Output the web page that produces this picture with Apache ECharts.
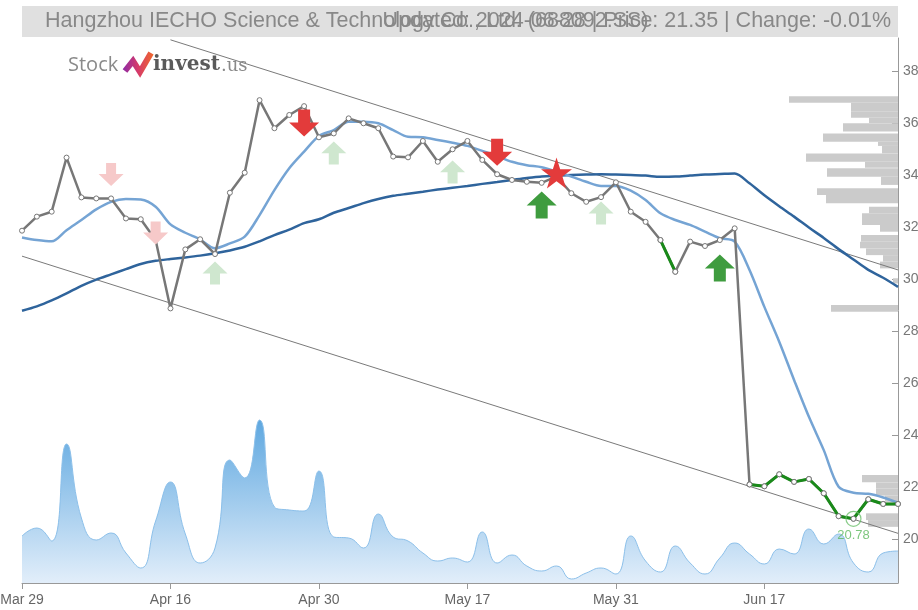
<!DOCTYPE html>
<html>
<head>
<meta charset="utf-8">
<script src="https://cdn.jsdelivr.net/npm/echarts@6/dist/echarts.min.js"></script>
<style>html,body{margin:0;padding:0;background:#fff;overflow:hidden}#c{width:918px;height:610px}</style>
</head>
<body>
<div id="c"></div>
<script>
const dates = ['Mar 29','Apr 1','Apr 2','Apr 3','Apr 8','Apr 9','Apr 10','Apr 11','Apr 12','Apr 15',
  'Apr 16','Apr 17','Apr 18','Apr 19','Apr 22','Apr 23','Apr 24','Apr 25','Apr 26','Apr 29',
  'Apr 30','May 6','May 7','May 8','May 9','May 10','May 13','May 14','May 15','May 16',
  'May 17','May 20','May 21','May 22','May 23','May 24','May 27','May 28','May 29','May 30',
  'May 31','Jun 3','Jun 4','Jun 5','Jun 6','Jun 7','Jun 11','Jun 12','Jun 13','Jun 14',
  'Jun 17','Jun 18','Jun 19','Jun 20','Jun 21','Jun 24','Jun 25','Jun 26','Jun 27','Jun 28'];

const price = [31.86,32.40,32.59,34.67,33.14,33.10,33.10,32.33,32.30,31.50,
  28.87,31.14,31.53,30.96,33.32,34.09,36.88,35.80,36.31,36.65,
  35.45,35.60,36.18,35.99,35.80,34.71,34.68,35.31,34.51,34.99,
  35.31,34.58,34.03,33.81,33.74,33.70,33.95,33.30,32.97,33.15,
  33.72,32.59,32.20,31.50,30.28,31.44,31.27,31.50,31.95,22.10,
  22.03,22.49,22.20,22.31,21.76,20.88,20.78,21.53,21.35,21.35];

const maShort = [31.60,31.50,31.45,31.88,32.27,32.68,32.97,33.08,33.06,32.78,
  32.10,31.78,31.52,31.18,31.37,31.63,32.46,33.42,34.26,34.90,
  35.50,35.73,36.05,36.05,35.99,35.73,35.47,35.45,35.35,35.24,
  35.12,34.93,34.73,34.51,34.38,34.30,34.13,33.94,33.74,33.58,
  33.58,33.40,33.04,32.53,32.27,32.08,31.82,31.57,31.44,30.35,
  28.93,27.59,26.12,24.70,23.42,22.01,21.78,21.74,21.60,21.40];

const maLong = [28.78,28.95,29.18,29.45,29.74,29.98,30.18,30.38,30.58,30.70,
  30.77,30.83,30.90,30.99,31.10,31.24,31.45,31.69,31.90,32.15,
  32.30,32.55,32.73,32.92,33.08,33.20,33.28,33.36,33.44,33.51,
  33.58,33.66,33.73,33.81,33.89,33.94,33.98,34.00,34.02,34.03,
  34.02,34.00,33.98,33.93,33.94,33.98,34.02,34.04,34.06,33.68,
  33.22,32.80,32.40,31.98,31.58,31.15,30.75,30.35,30.05,29.70];

const volume = [47,55,42,139,65,43,50,30,15,62,
  101,49,20,35,123,105,163,76,73,72,
  112,46,45,35,69,46,42,30,22,25,
  21,51,20,28,17,12,17,4,10,15,
  9,47,22,11,37,20,9,25,40,29,
  19,34,29,54,39,49,20,11,30,32];

const greenRanges = [[43,44],[49,59]];

const upperTrend = [['Apr 16',39.2],['Jun 28',30.35]];
const lowerTrend = [['Mar 29',30.88],['Jun 28',20.22]];

const sellWeak = [[6,34.02],[9,31.77]];
const sellStrong = [[19,36.0],[32,34.88]];
const buyWeak = [[13,30.23],[21,34.85],[29,34.12],[39,32.54]];
const buyStrong = [[35,32.85],[47,30.42]];
const starSignal = [[36,34.08]];
const minPoint = [[56,20.78]];

const profileLow  = [36.78,36.45,36.20,36.00,35.67,35.28,35.12,34.83,34.51,34.28,33.93,33.62,33.23,32.91,32.53,32.08,31.82,31.43,31.18,30.92,30.67,30.41,29.83,28.74,22.18,21.95,21.67,21.43,20.73,20.47];
const profileHigh = [37.03,36.78,36.45,36.20,35.99,35.60,35.28,35.12,34.83,34.51,34.26,33.93,33.49,33.23,32.78,32.53,32.08,31.69,31.43,31.18,30.92,30.67,30.03,29.00,22.46,22.18,21.95,21.67,20.99,20.73];
const profileVol  = [109,47,47,29,55,75,20,16,92,33,71,17,81,72,29,36,18,37,38,32,15,18,5,67,36,22,22,13,32,30];

const yMin = 18.31, yMax = 39.27;

const greenLine = price.map((v,i)=> greenRanges.some(r=>i>=r[0]&&i<=r[1]) ? v : null);
const profileData = profileLow.map((l,i)=>[l, profileHigh[i], profileVol[i]]);

const DOWN = 'path://M9,0 L21,0 L21,13 L30,13 L15,27 L0,13 L9,13 Z';
const UP = 'path://M15,0 L30,14 L21,14 L21,27 L9,27 L9,14 L0,14 Z';
const STAR = 'path://M50,0 L61.23,34.55 L97.55,34.55 L68.16,55.9 L79.39,90.45 L50,69.1 L20.61,90.45 L31.84,55.9 L2.45,34.55 L38.77,34.55 Z';

function markerSeries(data, symbol, size, color) {
  return {type:'scatter', xAxisIndex:0, yAxisIndex:0, data:data, symbol:symbol, symbolSize:size,
    itemStyle:{color:color, opacity:1}, z:8, silent:true};
}

const chart = echarts.init(document.getElementById('c'), null, {renderer:'canvas'});
chart.setOption({
  animation:false,
  backgroundColor:'#fff',
  grid:[
    {left:22, right:20, top:38, bottom:27, containLabel:false, outerBoundsMode:'none'},
    {left:780, right:20, top:38, bottom:27, containLabel:false, outerBoundsMode:'none'}
  ],
  xAxis:[
    {type:'category', gridIndex:0, data:dates, boundaryGap:false,
      axisLine:{show:true, lineStyle:{color:'#999', width:1}},
      axisTick:{show:true, interval:9, length:6, lineStyle:{color:'#999'}},
      axisLabel:{interval:9, color:'#666', fontSize:14, margin:10, fontFamily:'Liberation Sans', hideOverlap:false},
      splitLine:{show:false}},
    {type:'value', gridIndex:1, inverse:true, min:0, max:118, show:false}
  ],
  yAxis:[
    {type:'value', gridIndex:0, position:'right', min:yMin, max:yMax, splitNumber:10,
      axisLine:{show:true, lineStyle:{color:'#999', width:1}},
      axisTick:{show:true, inside:true, length:6, lineStyle:{color:'#999'}},
      axisLabel:{color:'#777', fontSize:14, margin:5, showMinLabel:false, showMaxLabel:false, fontFamily:'Liberation Sans'},
      splitLine:{show:false}},
    {type:'value', gridIndex:0, min:0, max:545, show:false},
    {type:'value', gridIndex:1, min:yMin, max:yMax, show:false}
  ],
  series:[
    {type:'line', name:'Volume', xAxisIndex:0, yAxisIndex:1, data:volume, smooth:true, symbol:'none',
      lineStyle:{color:'#8cc0ea', width:1},
      areaStyle:{color:new echarts.graphic.LinearGradient(0,0,0,1,[{offset:0,color:'#5fa8e0'},{offset:1,color:'#e2eefa'}]), opacity:1},
      z:1, silent:true},
    {type:'custom', name:'Profile', xAxisIndex:1, yAxisIndex:2, data:profileData, z:1, silent:true,
      renderItem:function(params, api){
        const p1 = api.coord([api.value(2), api.value(1)]);
        const p0 = api.coord([0, api.value(0)]);
        return {type:'rect', shape:{x:p1[0], y:p1[1], width:p0[0]-p1[0], height:p0[1]-p1[1]},
          style:{fill:'#cbcbcb'}};
      }},
    {type:'line', name:'UpperTrend', xAxisIndex:0, yAxisIndex:0, data:upperTrend, symbol:'none',
      lineStyle:{color:'#7a7a7a', width:1}, z:2, silent:true},
    {type:'line', name:'LowerTrend', xAxisIndex:0, yAxisIndex:0, data:lowerTrend, symbol:'none',
      lineStyle:{color:'#7a7a7a', width:1}, z:2, silent:true},
    {type:'line', name:'MA Long', xAxisIndex:0, yAxisIndex:0, data:maLong, symbol:'none', smooth:0.3,
      lineStyle:{color:'#2f649c', width:2.5}, z:3, silent:true},
    {type:'line', name:'MA Short', xAxisIndex:0, yAxisIndex:0, data:maShort, symbol:'none', smooth:0.3,
      lineStyle:{color:'#75a4d4', width:2.5}, z:3, silent:true},
    {type:'line', name:'Price', xAxisIndex:0, yAxisIndex:0, data:price, symbol:'circle', symbolSize:5, showAllSymbol:true,
      lineStyle:{color:'#777', width:2.5}, itemStyle:{color:'#fff', borderColor:'#777', borderWidth:1}, z:4, silent:true},
    {type:'line', name:'Green', xAxisIndex:0, yAxisIndex:0, data:greenLine, symbol:'circle', symbolSize:5, showAllSymbol:true,
      connectNulls:false,
      lineStyle:{color:'#1a8a1a', width:3}, itemStyle:{color:'#fff', borderColor:'#777', borderWidth:1}, z:5, silent:true},
    markerSeries(sellWeak, DOWN, [25,23], '#f6c9c9'),
    markerSeries(buyWeak, UP, [25,23], '#cfe7cf'),
    markerSeries(sellStrong, DOWN, [30,27], '#e33b3b'),
    markerSeries(buyStrong, UP, [30,27], '#3f9c3f'),
    markerSeries(starSignal, STAR, 31, '#e33b3b'),
    {type:'scatter', name:'Min', xAxisIndex:0, yAxisIndex:0, data:minPoint, symbol:'circle', symbolSize:15,
      itemStyle:{color:'rgba(0,0,0,0)', borderColor:'#6cbf6c', borderWidth:1.2},
      label:{show:true, position:'bottom', distance:2, color:'#5cb85c', fontSize:13, fontFamily:'Liberation Sans',
        formatter:function(p){return p.value[1].toFixed(2);}}, z:9, silent:true}
  ],
  graphic:[
    {type:'rect', shape:{x:22, y:6, width:876, height:31}, style:{fill:'#e0e0e0'}, z:10},
    {type:'text', x:45, y:21.5, style:{text:'Hangzhou IECHO Science & Technology Co., Ltd. (688092.SS)', fill:'#888',
      font:'21.5px "Liberation Sans"', textVerticalAlign:'middle', textAlign:'left'}, z:11},
    {type:'text', x:891, y:21.5, style:{text:'Updated: 2024-06-28 | Price: 21.35 | Change: -0.01%', fill:'#888',
      font:'21.5px "Liberation Sans"', textVerticalAlign:'middle', textAlign:'right'}, z:11},
    {type:'text', x:68, y:65, style:{text:'Stock', fill:'#8a8a8a', font:'20px "Open Sans"', textVerticalAlign:'middle'}, z:11},
    {type:'polyline', shape:{points:[[125,71],[133,61],[140,72],[151,53]]},
      style:{stroke:new echarts.graphic.LinearGradient(0,0,1,0,[{offset:0,color:'#8a2aa8'},{offset:0.5,color:'#d63a6a'},{offset:1,color:'#f06a2a'}]),
      lineWidth:6, lineJoin:'miter', fill:null}, z:11},
    {type:'text', x:153, y:65, style:{text:'invest', fill:'#5a5a5a', font:'bold 20px "DejaVu Serif"', textVerticalAlign:'middle'}, z:11},
    {type:'text', x:221, y:66, style:{text:'.us', fill:'#8a8a8a', font:'18px "DejaVu Serif"', textVerticalAlign:'middle'}, z:11}
  ]
});
</script>
</body>
</html>
